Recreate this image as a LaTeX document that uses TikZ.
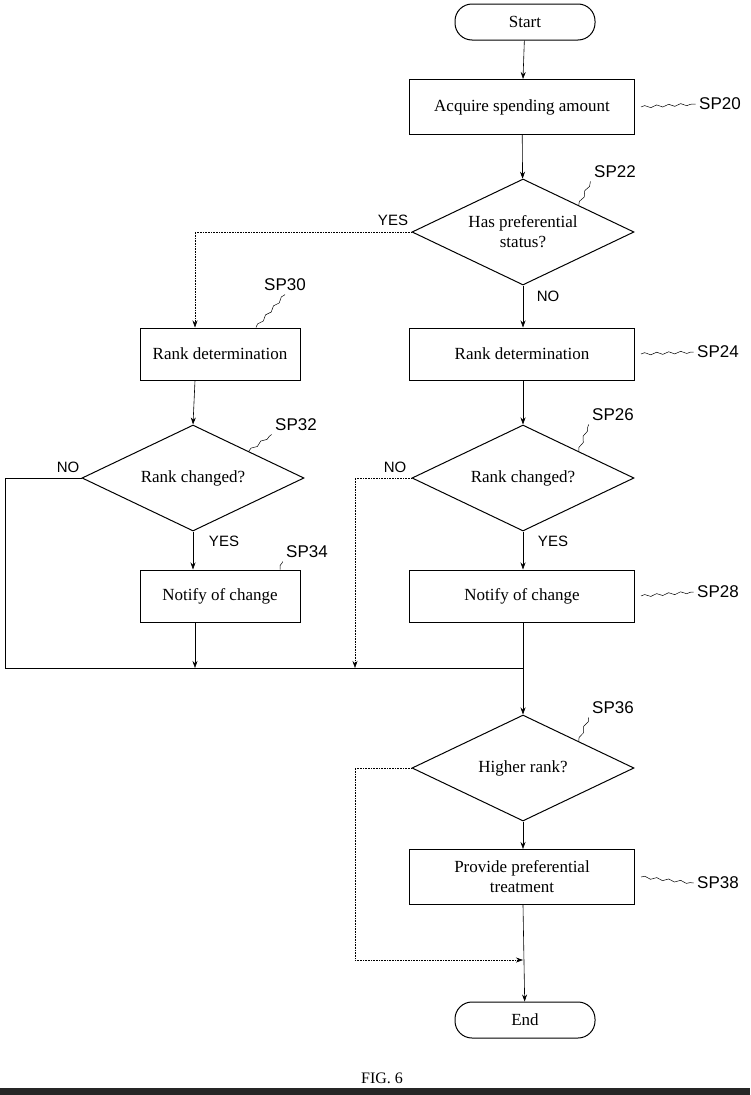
\documentclass[tikz,border=0pt]{standalone}
\usepackage{fontspec}
\setmainfont{Liberation Serif}
\newfontfamily\lab{Liberation Sans}
\usetikzlibrary{shapes.geometric,arrows.meta,decorations.pathmorphing}
\begin{document}
\begin{tikzpicture}[x=1pt,y=1pt,
  box/.style={draw,line width=1pt,minimum width=225pt,minimum height=55pt,align=center,font=\fontsize{17}{20}\selectfont},
  sbox/.style={box,minimum width=160pt,minimum height=52pt},
  dia/.style={draw,line width=1pt,diamond,aspect=2.1,inner sep=1pt,align=center,font=\fontsize{17}{20}\selectfont},
  term/.style={draw,line width=1pt,rounded corners=17pt,minimum width=140pt,minimum height=36pt,font=\fontsize{17}{20}\selectfont},
  ln/.style={line width=0.6pt},
  ar/.style={ln,-{Stealth[length=7pt,width=5pt]}},
  sp/.style={font=\lab\fontsize{17}{19}\selectfont},
  yn/.style={font=\lab\fontsize{15}{17}\selectfont},
  sq/.style={line width=0.5pt,decorate,decoration={snake,amplitude=1.2pt,segment length=12pt}}]
\useasboundingbox (0,0) rectangle (750,-1095);
\fill[black!85] (0,-1088) rectangle (750,-1095);
\node[term] (start) at (525,-22) {Start};
\node[box] (s20) at (522,-107) {Acquire spending amount};
\node[dia,minimum width=222pt,minimum height=106pt] (s22) at (523,-232) {Has preferential\\status?};
\node[sbox] (s30) at (220,-354) {Rank determination};
\node[box,minimum height=52pt] (s24) at (522,-354) {Rank determination};
\node[dia,minimum width=222pt,minimum height=106pt] (s32) at (193,-478) {Rank changed?};
\node[dia,minimum width=222pt,minimum height=106pt] (s26) at (523,-478) {Rank changed?};
\node[sbox] (s34) at (220,-596) {Notify of change};
\node[box,minimum height=52pt] (s28) at (522,-596) {Notify of change};
\node[dia,minimum width=222pt,minimum height=106pt] (s36) at (523,-768) {Higher rank?};
\node[box] (s38) at (522,-877) {Provide preferential\\treatment};
\node[term] (end) at (525,-1020) {End};
\node[font=\fontsize{16}{18}\selectfont] (fig) at (382,-1078) {FIG. 6};
% labels
\node[sp] (l20) at (720,-104) {SP20};
\node[sp] (l22) at (615,-172) {SP22};
\node[sp] (l30) at (285,-285) {SP30};
\node[sp] (l24) at (718,-352) {SP24};
\node[sp] (l32) at (296,-425) {SP32};
\node[sp] (l26) at (613,-415) {SP26};
\node[sp] (l34) at (307,-552) {SP34};
\node[sp] (l28) at (718,-592) {SP28};
\node[sp] (l36) at (613,-708) {SP36};
\node[sp] (l38) at (718,-883) {SP38};
\draw[sq] ([xshift=6pt]s20.east) -- (l20.west);
\draw[sq] (s22.north east) -- (l22.south west);
\draw[sq] ([xshift=36pt]s30.north) -- (l30.south);
\draw[sq] ([xshift=6pt]s24.east) -- (l24.west);
\draw[sq] (s32.north east) -- (l32.south west);
\draw[sq] (s26.north east) -- (l26.south west);
\draw[sq] ([xshift=60pt]s34.north) -- (l34.south west);
\draw[sq] ([xshift=6pt]s28.east) -- (l28.west);
\draw[sq] (s36.north east) -- (l36.south west);
\draw[sq] ([xshift=6pt]s38.east) -- (l38.west);
% yes/no
\node[yn] at (393,-220) {YES};
\node[yn] at (548,-296) {NO};
\node[yn] at (68,-467) {NO};
\node[yn] at (395,-467) {NO};
\node[yn] at (224,-541) {YES};
\node[yn] at (553,-541) {YES};
% connectors
\coordinate (m0) at (5,-668);
\coordinate (mL) at (195,-668);
\coordinate (mR) at (355,-668);
\coordinate (mC) at (523,-668);
\coordinate (b36) at (523,-960);
\draw[ar] (start) -- (s20);
\draw[ar] (s20) -- (s22);
\draw[ar] (s22.south) -- (s24.north -| s22.south);
\draw[ar,densely dotted] (s22.west) -| (s30.north -| 195,0);
\draw[ar] (s30.south -| 195,0) -- (s32.north);
\draw[ar] (s24.south -| 523,0) -- (s26.north);
\draw[ar] (s32.south) -- (s34.north -| s32.south);
\draw[ar] (s26.south) -- (s28.north -| s26.south);
\draw[ln] (s32.west) -| (m0) -- (mC);
\draw[ar] (s34.south -| 195,0) -- (mL);
\draw[ar,densely dotted] (s26.west) -| (mR);
\draw[ln] (s28.south -| 523,0) -- (mC);
\draw[ar] (mC) -- (s36.north);
\draw[ar] (s36.south) -- (s38.north -| s36.south);
\draw[ln,densely dotted] (s36.west) -| (355,-960) coordinate (k);
\draw[ar,densely dotted] (k) -- (b36);
\draw[ar] (s38.south -| 523,0) -- (end);
\end{tikzpicture}
\end{document}
